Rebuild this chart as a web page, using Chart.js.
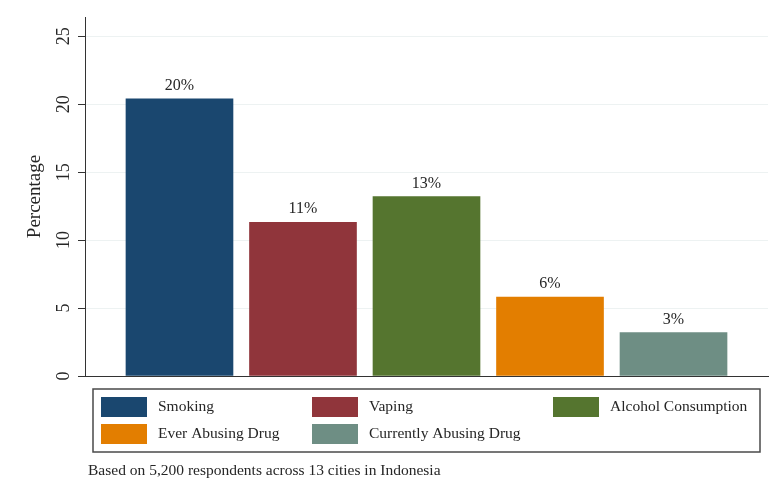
<!DOCTYPE html>
<html>
<head>
<meta charset="utf-8">
<script src="https://cdn.jsdelivr.net/npm/chart.js@4"></script>
<style>
    body { margin: 0; background: #fff; }
</style>
</head>
<body>
<canvas id="chart" width="773" height="494"></canvas>
<script>
const categories = ['Smoking', 'Vaping', 'Alcohol Consumption', 'Ever Abusing Drug', 'Currently Abusing Drug']
const percentages = [20.4, 11.3, 13.2, 5.8, 3.2]
const colors = ['#1a476f', '#90353b', '#55752f', '#e37e00', '#6e8e84']
const y_ticks = [0, 5, 10, 15, 20, 25]
const note = 'Based on 5,200 respondents across 13 cities in Indonesia'

const serif = "'Liberation Serif', 'Times New Roman', serif"
const ink = '#262626'

// rounded percentage written above each bar
const bar_labels = {
    id: 'bar_labels',
    afterDatasetsDraw(chart) {
        const ctx = chart.ctx
        const meta = chart.getDatasetMeta(0)
        ctx.save()
        ctx.font = `16px ${serif}`
        ctx.fillStyle = ink
        ctx.textAlign = 'center'
        ctx.textBaseline = 'alphabetic'
        meta.data.forEach((bar, i) => {
            ctx.fillText(Math.round(percentages[i]) + '%', bar.x, bar.y - 9)
        })
        ctx.restore()
    }
}

// framed legend, three columns, with the note below it
const boxed_legend = {
    id: 'boxed_legend',
    afterDraw(chart) {
        const ctx = chart.ctx
        const area = chart.chartArea
        const left = area.left + 8
        const right = area.right - 8
        const top = area.bottom + 13
        const height = 63
        const column_x = [8, 219, 460]

        ctx.save()
        ctx.strokeStyle = '#4a4a4a'
        ctx.lineWidth = 1.5
        ctx.strokeRect(left, top, right - left, height)

        ctx.font = `15.5px ${serif}`
        ctx.textAlign = 'left'
        ctx.textBaseline = 'middle'
        categories.forEach((name, i) => {
            const x = left + column_x[i % 3]
            const y = top + 8 + Math.floor(i / 3) * 27
            ctx.fillStyle = colors[i]
            ctx.fillRect(x, y, 46, 20)
            ctx.fillStyle = ink
            ctx.fillText(name, x + 57, y + 10)
        })

        ctx.textBaseline = 'alphabetic'
        ctx.fillText(note, area.left + 3, top + height + 23)
        ctx.restore()
    }
}

new Chart(document.getElementById('chart'), {
    type: 'bar',
    data: {
        datasets: [{
            data: percentages.map((v, i) => ({ x: i, y: v })),
            backgroundColor: colors,
            barThickness: 107
        }]
    },
    options: {
        responsive: false,
        animation: false,
        devicePixelRatio: 1,
        layout: {
            padding: { top: 17, right: 5, bottom: 118, left: 0 }
        },
        scales: {
            x: {
                type: 'linear',
                offset: false,
                min: -0.765,
                max: 4.765,
                ticks: { display: false },
                grid: { display: false, drawTicks: false, offset: false },
                border: { color: '#333', width: 1 },
                afterFit: (scale) => { scale.height = 0 }
            },
            y: {
                min: 0,
                max: 26.42,
                afterBuildTicks: (scale) => {
                    scale.ticks = y_ticks.map(v => ({ value: v }))
                },
                afterFit: (scale) => { scale.width = 85 },
                ticks: {
                    minRotation: 90,
                    maxRotation: 90,
                    crossAlign: 'center',
                    padding: 5,
                    color: ink,
                    font: { family: serif, size: 18 }
                },
                grid: {
                    color: '#edf2f2',
                    tickColor: '#333',
                    tickLength: 7
                },
                border: { color: '#333', width: 1 },
                title: {
                    display: true,
                    text: 'Percentage',
                    color: ink,
                    padding: { top: 24, bottom: 0 },
                    font: { family: serif, size: 19 }
                }
            }
        },
        plugins: {
            legend: { display: false },
            tooltip: { enabled: false }
        }
    },
    plugins: [bar_labels, boxed_legend]
})
</script>
</body>
</html>
